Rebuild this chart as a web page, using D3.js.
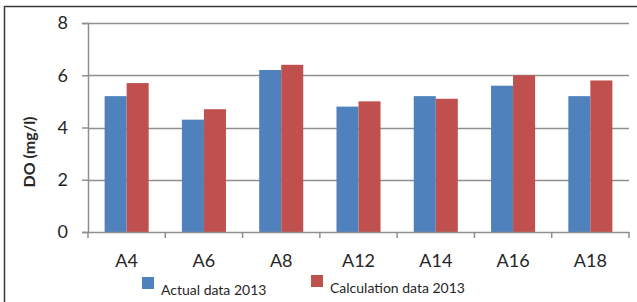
<!DOCTYPE html>
<html>
<head>
<meta charset="utf-8">
<script src="https://cdn.jsdelivr.net/npm/d3@7"></script>
<style>
  body { margin: 0; background: #fff; }
  svg text { font-family: Lato, "Open Sans", sans-serif; fill: #262626; }
</style>
</head>
<body>
<div id="chart"></div>
<script>
// values
const stations = ["A4", "A6", "A8", "A12", "A14", "A16", "A18"];
const actual2013 = [5.2, 4.3, 6.2, 4.8, 5.2, 5.6, 5.2];
const calc2013 = [5.7, 4.7, 6.4, 5.0, 5.1, 6.0, 5.8];
const seriesNames = ["Actual data 2013", "Calculation data 2013"];
const seriesColors = ["#4f81bd", "#c0504d"];
const yTicks = [0, 2, 4, 6, 8];

const width = 637, height = 302;
const margin = { top: 23, right: 8, bottom: 70, left: 88 };

let svg = d3.select("#chart").append("svg")
    .attr("width", width)
    .attr("height", height);

// frame (only left and top edges show in the crop)
svg.append("path")
    .attr("d", "M4.5,302 V6.5 H637")
    .attr("fill", "none")
    .attr("stroke", "#3a3a3a")
    .attr("stroke-width", 1.5);

let x = d3.scaleBand()
    .domain(stations)
    .range([margin.left, width - margin.right]);

let xInner = d3.scaleBand()
    .domain([0, 1])
    .range([0, x.bandwidth() * 0.57])
    .paddingInner(0);
let groupOffset = (x.bandwidth() - xInner.range()[1]) / 2;

let y = d3.scaleLinear()
    .domain([0, 8])
    .range([height - margin.bottom, margin.top]);

// gridlines
svg.append("g")
    .selectAll("line")
    .data(yTicks.filter(d => d > 0))
    .enter().append("line")
    .attr("x1", margin.left)
    .attr("x2", width - margin.right)
    .attr("y1", d => Math.round(y(d)) + 0.5)
    .attr("y2", d => Math.round(y(d)) + 0.5)
    .attr("stroke", "#8f8f8f")
    .attr("stroke-width", 1.5);

// bars
let rows = stations.map((s, i) => ({ station: s, vals: [actual2013[i], calc2013[i]] }));

let groups = svg.append("g")
    .selectAll("g")
    .data(rows)
    .enter().append("g")
    .attr("transform", d => `translate(${x(d.station) + groupOffset},0)`);

groups.selectAll("rect")
    .data(d => d.vals)
    .enter().append("rect")
    .attr("x", (d, i) => xInner(i))
    .attr("width", xInner.bandwidth())
    .attr("y", d => y(d))
    .attr("height", d => y(0) - y(d))
    .attr("fill", (d, i) => seriesColors[i]);

// y axis
let yAxis = svg.append("g")
    .attr("transform", `translate(${margin.left},0)`)
    .call(d3.axisLeft(y).tickValues(yTicks).tickSize(6).tickPadding(14));
yAxis.select(".domain").attr("stroke", "#8f8f8f").attr("stroke-width", 1.5);
yAxis.selectAll(".tick line").attr("stroke", "#8f8f8f").attr("stroke-width", 1.5);
yAxis.selectAll(".tick text")
    .style("font-size", "18px")
    .attr("fill", "#262626");

// x axis
let xAxis = svg.append("g")
    .attr("transform", `translate(0,${y(0)})`)
    .call(d3.axisBottom(x).tickSize(0).tickPadding(22));
xAxis.select(".domain").attr("stroke", "#8f8f8f").attr("stroke-width", 1.5);
xAxis.selectAll(".tick text")
    .style("font-size", "18px")
    .attr("fill", "#262626");

// tick marks between categories
let bounds = stations.map(s => x(s)).concat([x(stations[stations.length - 1]) + x.bandwidth()]);
svg.append("g")
    .selectAll("line")
    .data(bounds)
    .enter().append("line")
    .attr("x1", d => d)
    .attr("x2", d => d)
    .attr("y1", y(0))
    .attr("y2", y(0) + 6)
    .attr("stroke", "#8f8f8f")
    .attr("stroke-width", 1.5);

// y axis title
svg.append("text")
    .attr("transform", "translate(35,152) rotate(-90)")
    .attr("text-anchor", "middle")
    .style("font-size", "16px")
    .style("font-weight", "bold")
    .text("DO (mg/l)");

// legend
let legendX = [142, 311];
let legend = svg.append("g")
    .selectAll("g")
    .data(seriesNames)
    .enter().append("g")
    .attr("transform", (d, i) => `translate(${legendX[i]},${i === 0 ? 277 : 275})`);

legend.append("rect")
    .attr("width", 12)
    .attr("height", 12)
    .attr("fill", (d, i) => seriesColors[i]);

legend.append("text")
    .attr("x", 19)
    .attr("y", 18)
    .style("font-size", "14px")
    .text(d => d);
</script>
</body>
</html>
